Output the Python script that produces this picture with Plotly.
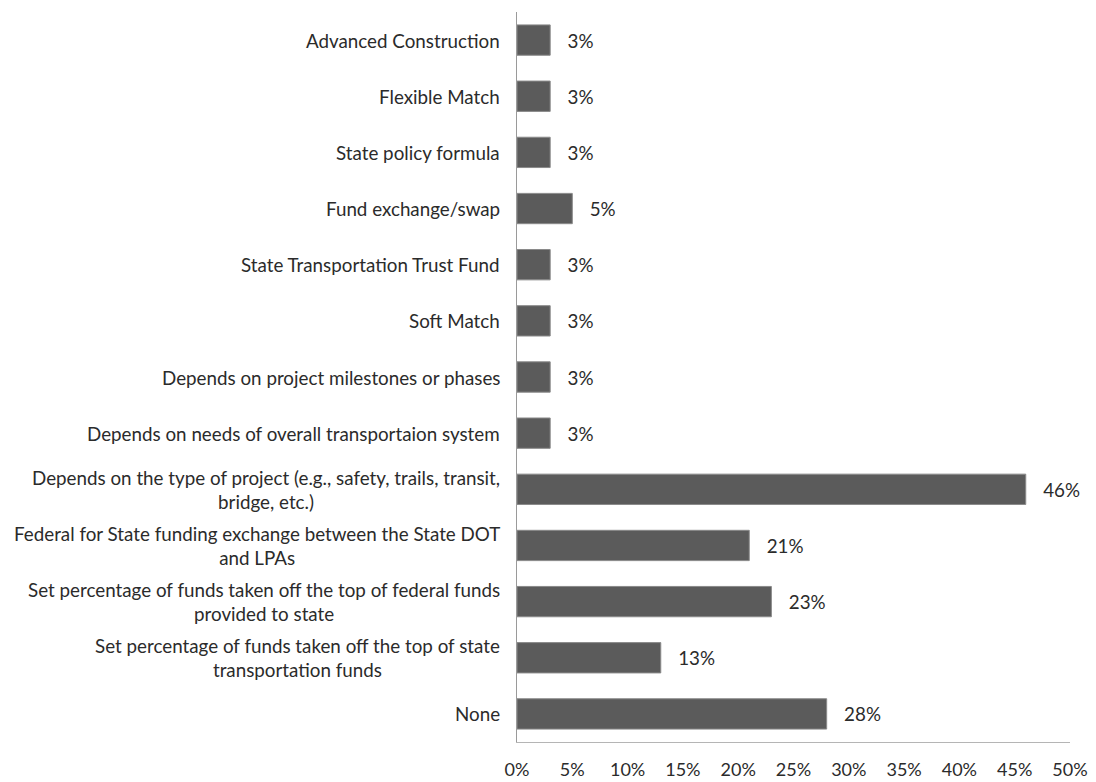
import plotly.graph_objects as go

# Survey responses: methods used to distribute funds (top to bottom)
categories = [
    "Advanced Construction",
    "Flexible Match",
    "State policy formula",
    "Fund exchange/swap",
    "State Transportation Trust Fund",
    "Soft Match",
    "Depends on project milestones or phases",
    "Depends on needs of overall transportaion system",
    "Depends on the type of project (e.g., safety, trails, transit,<br>bridge, etc.)",
    "Federal for State funding exchange between the State DOT<br>and LPAs",
    "Set percentage of funds taken off the top of federal funds<br>provided to state",
    "Set percentage of funds taken off the top of state<br>transportation funds",
    "None",
]
percent = [3, 3, 3, 5, 3, 3, 3, 3, 46, 21, 23, 13, 28]
x_ticks = [0, 5, 10, 15, 20, 25, 30, 35, 40, 45, 50]

FONT = "Lato"
TEXT_COLOR = "#2b2b2b"
SIZE = 18.8

fig = go.Figure(
    go.Bar(
        y=categories,
        x=percent,
        orientation="h",
        marker=dict(color="#5b5b5b", line=dict(color="#8a8a8a", width=1)),
        text=["\u00a0\u00a0\u00a0" + f"{v}%" for v in percent],
        textposition="outside",
        textfont=dict(family=FONT, size=SIZE, color=TEXT_COLOR),
        cliponaxis=False,
        width=0.54,
    )
)

# Category labels, right-aligned to the axis with centred lines
for cat in categories:
    fig.add_annotation(
        x=0, xref="paper", y=cat, yref="y",
        text=cat, showarrow=False,
        xanchor="right", align="center", xshift=-15,
        font=dict(family=FONT, size=SIZE, color=TEXT_COLOR),
    )

fig.update_layout(
    width=1096, height=782,
    margin=dict(l=517, r=26, t=12, b=40),
    paper_bgcolor="white", plot_bgcolor="white",
    showlegend=False,
    xaxis=dict(
        range=[0, 50], tickvals=x_ticks,
        ticktext=[f"{t}%" for t in x_ticks],
        showgrid=False, zeroline=False, automargin=False,
        showline=True, linecolor="#b5b5b5", linewidth=1,
        ticks="outside", ticklen=11, tickcolor="rgba(0,0,0,0)",
        tickfont=dict(family=FONT, size=18, color=TEXT_COLOR),
    ),
    yaxis=dict(
        categoryorder="array", categoryarray=categories[::-1],
        showticklabels=False, showgrid=False, zeroline=False,
        automargin=False,
        showline=True, linecolor="#9a9a9a", linewidth=1,
    ),
)

fig.write_html("out.html")
